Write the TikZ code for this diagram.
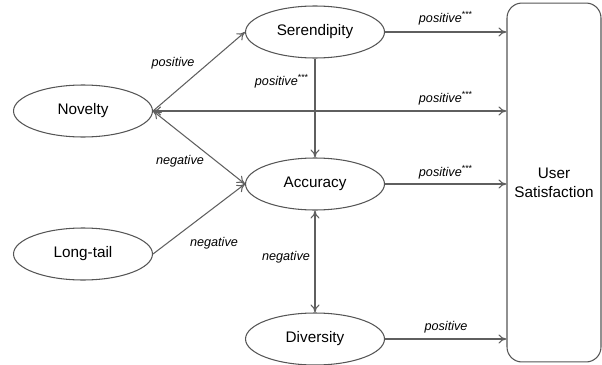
\documentclass[tikz,border=0pt]{standalone}
\usepackage{fontspec}
\setmainfont{Liberation Sans}
\usetikzlibrary{arrows.meta,shapes.geometric}
\definecolor{linecolor}{RGB}{85,85,85}
\definecolor{arrowcolor}{RGB}{95,95,95}
\tikzset{
  factor/.style={ellipse, draw=linecolor, line width=0.6pt, minimum width=2.78cm,
    minimum height=1.04cm, inner sep=0pt, font=\fontsize{8.7}{10}\selectfont},
  outcome/.style={rectangle, rounded corners=8.5pt, draw=linecolor, line width=0.6pt,
    minimum width=1.88cm, minimum height=7.18cm, align=center,
    font=\fontsize{8.7}{10.8}\selectfont},
  effect/.style={-{To[length=1.6mm,width=1.8mm]}, line width=0.6pt, arrowcolor},
  mutual/.style={{To[length=1.6mm,width=1.8mm]}-{To[length=1.6mm,width=1.8mm]}, line width=0.6pt, arrowcolor},
  sign/.style={font=\fontsize{7.2}{9}\selectfont\itshape, inner sep=0pt},
}
\newcommand{\sig}{\textsuperscript{\upshape ***}}

\begin{document}
\begin{tikzpicture}[x=0.02cm, y=-0.02cm]
    \useasboundingbox (0,0) rectangle (602,365);
    % factors
    \node[factor] (nov) at (83,111) {Novelty};
    \node[factor] (lt) at (83,254) {Long-tail};
    \node[factor] (ser) at (315,32) {Serendipity};
    \node[factor] (acc) at (315,184) {Accuracy};
    \node[factor] (div) at (315,339) {Diversity};
    % outcome
    \node[outcome] (box) at (554,182.5) {User\\Satisfaction};
    % links between factors
    \draw[effect] (nov.east) -- (ser.west);
    \draw[mutual] (nov.east) -- (acc.west);
    \draw[effect] (lt.east) -- (acc.west);
    \draw[effect] (ser.south) -- (acc.north);
    \draw[mutual] (acc.south) -- (div.north);
    % links to satisfaction
    \draw[effect] (ser.east) -- (ser.east -| box.west);
    \draw[mutual] (nov.east) -- (nov.east -| box.west);
    \draw[effect] (acc.east) -- (acc.east -| box.west);
    \draw[effect] (div.east) -- (div.east -| box.west);
    % signs
    \node[sign] (s-novser) at (173,63) {positive};
    \node[sign] (s-novacc) at (180,161) {negative};
    \node[sign] (s-ltacc) at (214,243) {negative};
    \node[sign] (s-seracc) at (282,81) {positive\sig};
    \node[sign] (s-accdiv) at (286,257) {negative};
    \node[sign] (s-serbox) at (446,18) {positive\sig};
    \node[sign] (s-novbox) at (446,98) {positive\sig};
    \node[sign] (s-accbox) at (446,172) {positive\sig};
    \node[sign] (s-divbox) at (446,327) {positive};
\end{tikzpicture}
\end{document}
